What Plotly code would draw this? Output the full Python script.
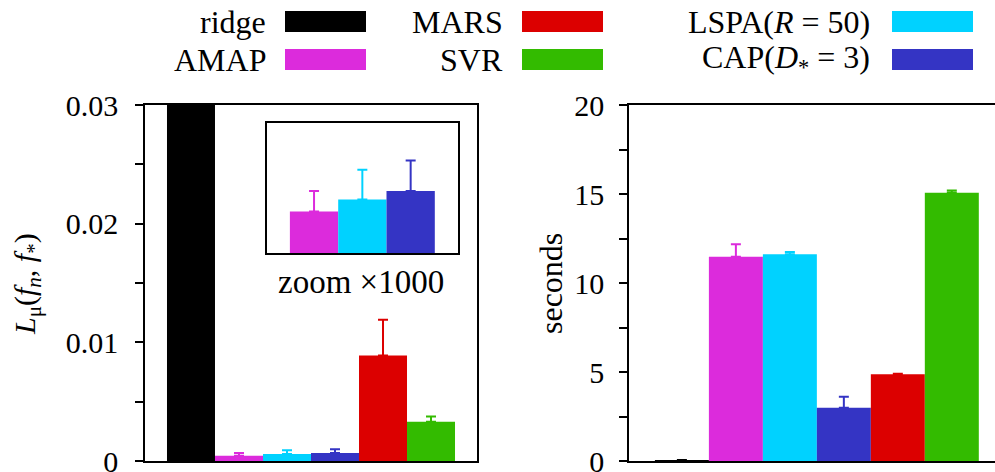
import plotly.graph_objects as go

# ---------------- data ----------------
methods = ["ridge", "AMAP", "LSPA", "CAP", "MARS", "SVR"]
legend_labels = ["ridge", "AMAP", "LSPA(<i>R</i> = 50)", "CAP(<i>D</i><sub>*</sub> = 3)", "MARS", "SVR"]
colors = ["#000000", "#dc2bdc", "#00d2ff", "#3434c4", "#dc0000", "#33bb00"]

loss = [0.0345, 0.00045, 0.00058, 0.00067, 0.0089, 0.0033]
loss_err = [0.0, 0.00022, 0.00032, 0.00033, 0.0030, 0.00045]

secs = [0.05, 11.48, 11.61, 2.99, 4.87, 15.07]
secs_err = [0.0, 0.70, 0.13, 0.62, 0.03, 0.13]

inset_methods = ["AMAP", "LSPA", "CAP"]

W, H = 995, 472
FONT = "'Liberation Serif', 'Times New Roman', Times, serif"
FS = 30
LEG_FS = 32


def X(px):
    return px / W


def Y(py):
    return 1 - py / H


fig = go.Figure()

# main left: loss
for m, c, v, e in zip(methods, colors, loss, loss_err):
    fig.add_trace(go.Bar(x=[m], y=[v], marker=dict(color=c, line_width=0), width=1,
                         error_y=dict(type="data", array=[e], arrayminus=[0], symmetric=False,
                                      color=c, thickness=2, width=5),
                         xaxis="x", yaxis="y", showlegend=False))
# right: seconds
for m, c, v, e in zip(methods, colors, secs, secs_err):
    fig.add_trace(go.Bar(x=[m], y=[v], marker=dict(color=c, line_width=0), width=1,
                         error_y=dict(type="data", array=[e], arrayminus=[0], symmetric=False,
                                      color=c, thickness=2, width=5),
                         xaxis="x2", yaxis="y2", showlegend=False))
# inset zoom
for m, c, v, e in zip(methods, colors, loss, loss_err):
    if m in inset_methods:
        fig.add_trace(go.Bar(x=[m], y=[v], marker=dict(color=c, line_width=0), width=1,
                             error_y=dict(type="data", array=[e], arrayminus=[0], symmetric=False,
                                          color=c, thickness=2, width=5),
                             xaxis="x3", yaxis="y3", showlegend=False))

ydom = [Y(461), Y(105)]
axis_common = dict(showline=True, linecolor="black", linewidth=1.5, showgrid=False,
                   zeroline=False)

fig.update_layout(
    width=W, height=H,
    margin=dict(l=0, r=0, t=0, b=0, autoexpand=False),
    paper_bgcolor="white", plot_bgcolor="white",
    font=dict(family=FONT, size=FS, color="black"),
    barmode="overlay",
    xaxis=dict(domain=[X(145), X(477)], range=[-0.958, 5.958], type="category",
               categoryorder="array", categoryarray=methods, showticklabels=False,
               ticks="", mirror=True, anchor="y", **axis_common),
    yaxis=dict(domain=ydom, range=[0, 0.03], dtick=0.01, tick0=0, ticks="outside",
               ticklen=8, tickwidth=1.5, tickcolor="black", mirror=True, anchor="x",
               ticklabelstandoff=11, ticklabeloverflow="allow",
               minor=dict(dtick=0.005, ticks="outside", ticklen=8, tickwidth=1.5, tickcolor="black"),
               **axis_common),
    xaxis2=dict(domain=[X(629), 1.0], range=[-0.98, 5.80], type="category",
                categoryorder="array", categoryarray=methods, showticklabels=False,
                ticks="", mirror=True, anchor="y2", **axis_common),
    yaxis2=dict(domain=ydom, range=[0, 20], dtick=5, tick0=0, ticks="outside",
                ticklen=8, tickwidth=1.5, tickcolor="black", mirror=False, anchor="x2",
                ticklabelstandoff=9, ticklabeloverflow="allow",
                minor=dict(dtick=2.5, ticks="outside", ticklen=8, tickwidth=1.5, tickcolor="black"),
                **axis_common),
    xaxis3=dict(domain=[X(266.7), X(458)], range=[-0.98, 2.98], type="category",
                categoryorder="array", categoryarray=inset_methods, showticklabels=False,
                ticks="", mirror=True, anchor="y3", **axis_common),
    yaxis3=dict(domain=[Y(253.3), Y(123.3)], range=[0, 0.0014], showticklabels=False,
                ticks="", mirror=True, anchor="x3", **axis_common),
)

annotations = [
    dict(text="<i>L</i><sub>μ</sub>(<i>f</i><sub><i>n</i></sub>, <i>f</i><sub>*</sub>)",
         x=X(27), y=Y(284), textangle=-90, size=FS),
    dict(text="seconds", x=X(551), y=Y(284), textangle=-90, size=32),
    dict(text="zoom ×1000", x=X(361), y=Y(282), size=33),
]
for a in annotations:
    sz = a.pop("size")
    a.update(xref="paper", yref="paper", showarrow=False, xanchor="center", yanchor="middle",
             font=dict(family=FONT, size=sz, color="black"))
fig.update_layout(annotations=annotations)

# legend drawn manually: text right-aligned, swatch to its right
legend_layout = {  # method -> (text right px, swatch left px, row)
    "ridge": (268, 285, 0), "AMAP": (268, 285, 1),
    "MARS": (505, 522, 0), "SVR": (505, 522, 1),
    "LSPA": (872, 892, 0), "CAP": (872, 892, 1),
}
row_top = [11, 49]
sw_w, sw_h = 81, 21
for m, lab, c in zip(methods, legend_labels, colors):
    tx, sx, r = legend_layout[m]
    yc = row_top[r] + sw_h / 2
    fig.add_annotation(text=lab, x=X(tx), y=Y(yc), xref="paper", yref="paper",
                       showarrow=False, xanchor="right", yanchor="middle",
                       font=dict(family=FONT, size=LEG_FS, color="black"))
    fig.add_shape(type="rect", xref="paper", yref="paper",
                  x0=X(sx), x1=X(sx + sw_w), y0=Y(row_top[r] + sw_h), y1=Y(row_top[r]),
                  fillcolor=c, line_width=0)

fig.write_html("out.html", config={"displayModeBar": False},
               post_script="document.body.style.margin='0';")
